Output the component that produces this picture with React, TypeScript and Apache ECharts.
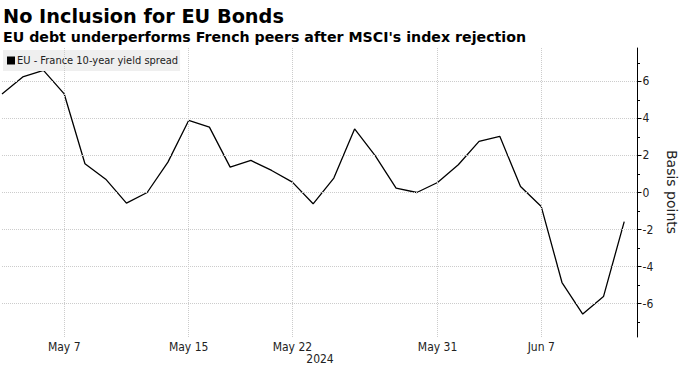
import React, { useEffect, useRef } from "react";
import * as echarts from "echarts";

const dates = [
  "May 2", "May 3", "May 6", "May 7", "May 8", "May 9", "May 10",
  "May 13", "May 14", "May 15", "May 16", "May 17",
  "May 20", "May 21", "May 22", "May 23", "May 24",
  "May 27", "May 28", "May 29", "May 30", "May 31",
  "Jun 3", "Jun 4", "Jun 5", "Jun 6", "Jun 7",
  "Jun 10", "Jun 11", "Jun 12", "Jun 13",
];
const spread = [
  5.32, 6.24, 6.59, 5.32, 1.55, 0.72, -0.57,
  0.0, 1.64, 3.89, 3.53, 1.37,
  1.73, 1.19, 0.56, -0.61, 0.78,
  3.43, 1.98, 0.24, 0.0, 0.54,
  1.5, 2.76, 3.03, 0.32, -0.76,
  -4.86, -6.56, -5.62, -1.57,
];
const xTickLabels = ["May 7", "May 15", "May 22", "May 31", "Jun 7"];
const yTickValues = [-6, -4, -2, 0, 2, 4, 6];
const yMinorTickValues = [-7, -5, -3, -1, 1, 3, 5, 7];
const seriesName = "EU - France 10-year yield spread";
const yearLabel = "2024";
const yAxisTitle = "Basis points";
const titleText = "No Inclusion for EU Bonds";
const subtitleText = "EU debt underperforms French peers after MSCI's index rejection";

const COND = '"DejaVu Sans Condensed", "Liberation Sans", sans-serif';
const SANS = '"DejaVu Sans", Verdana, sans-serif';

export default function App() {
  const ref = useRef<HTMLDivElement>(null);
  useEffect(() => {
    if (!ref.current) return;
    const chart = echarts.init(ref.current, null, { renderer: "svg" });
    const xTickIdx = xTickLabels.map((l) => dates.indexOf(l));
    const xMax = dates.length - 1 + 0.64;
    const gridColor = "#cccccc";
    const gridBox = { left: 2, right: 43.5, top: 48, bottom: 31, outerBoundsMode: "none" };
    chart.setOption({
      animation: false,
      backgroundColor: "#ffffff",
      grid: [{ ...gridBox }, { ...gridBox }],
      graphic: [
        {
          type: "text",
          left: 3,
          top: 6.5,
          style: { text: titleText, font: `bold 19.3px ${SANS}`, fill: "#000" },
        },
        {
          type: "text",
          left: 3,
          top: 30,
          style: { text: subtitleText, font: `bold 14.2px ${SANS}`, fill: "#000" },
        },
        {
          type: "text",
          x: 320,
          y: 359,
          style: { text: yearLabel, font: `12px ${COND}`, fill: "#222", align: "center", verticalAlign: "middle" },
        },
        {
          type: "text",
          x: 672,
          y: 192,
          rotation: -Math.PI / 2,
          style: { text: yAxisTitle, font: `14px ${SANS}`, fill: "#222", align: "center", verticalAlign: "middle" },
        },
      ],
      legend: {
        data: [seriesName],
        left: 3,
        top: 50,
        padding: [5, 2, 5, 4],
        backgroundColor: "#efefef",
        icon: "rect",
        itemWidth: 8,
        itemHeight: 8,
        textStyle: { fontSize: 11, fontFamily: COND, color: "#222", padding: [0, 0, 0, -3] },
      },
      xAxis: [
        {
          type: "value",
          gridIndex: 0,
          min: 0,
          max: xMax,
          axisLine: { show: false },
          axisTick: { show: false },
          splitLine: { show: false },
          axisLabel: {
            customValues: xTickIdx,
            formatter: (v: number) => dates[v] ?? "",
            fontSize: 12,
            fontFamily: COND,
            color: "#222",
            margin: 4,
          },
        },
        {
          type: "value",
          gridIndex: 1,
          min: 0,
          max: xMax,
          show: false,
        },
      ],
      yAxis: [
        {
          type: "value",
          gridIndex: 0,
          position: "right",
          min: -7.8,
          max: 7.8,
          axisLine: { show: true, onZero: false, lineStyle: { color: "#000", width: 1 } },
          axisTick: { show: true, length: 4, customValues: yTickValues, lineStyle: { color: "#000" } },
          axisLabel: {
            customValues: yTickValues,
            fontSize: 12,
            fontFamily: COND,
            color: "#222",
            margin: 5,
          },
          splitLine: { show: false },
        },
        {
          type: "value",
          gridIndex: 1,
          position: "right",
          min: -7.8,
          max: 7.8,
          axisLine: { show: false, onZero: false },
          axisTick: { show: true, length: 2.5, customValues: yMinorTickValues, lineStyle: { color: "#000" } },
          axisLabel: { show: false },
          splitLine: { show: false },
        },
      ],
      series: [
        {
          name: seriesName,
          type: "line",
          xAxisIndex: 0,
          yAxisIndex: 0,
          data: spread.map((v, i) => [i, v]),
          symbol: "none",
          itemStyle: { color: "#000" },
          lineStyle: { color: "#000", width: 1.3 },
          z: 3,
          markLine: {
            silent: true,
            symbol: ["none", "none"],
            label: { show: false },
            lineStyle: { color: gridColor, type: "dotted", width: 1 },
            data: [
              ...yTickValues.map((v) => ({ yAxis: v })),
              ...xTickIdx.map((i) => ({ xAxis: i })),
            ],
          },
        },
      ],
    });
    return () => chart.dispose();
  }, []);
  return <div ref={ref} style={{ width: 681, height: 368, position: "absolute", left: 0, top: 0 }} />;
}
